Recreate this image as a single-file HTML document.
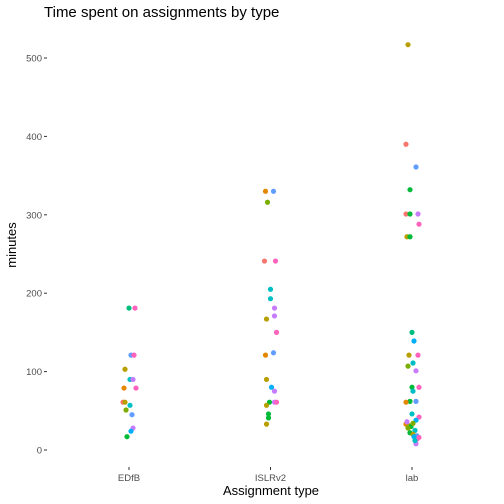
<!DOCTYPE html>
<html><head><meta charset="utf-8"><style>
body{margin:0;background:#fff;}
svg{display:block;font-family:"Liberation Sans",sans-serif;}
</style></head><body>
<svg id="chart" width="504" height="504">
<text x="44" y="17" font-size="15" fill="#000">Time spent on assignments by type</text>
<text transform="translate(16,245) rotate(-90)" text-anchor="middle" font-size="13" fill="#000">minutes</text>
<text x="271" y="495" text-anchor="middle" font-size="13" fill="#000">Assignment type</text>
<g id="axes"></g><g id="pts"></g>
</svg>
<script>
const categories=["EDfB","ISLRv2","lab"];
const yTicks=[0,100,200,300,400,500];
const ptCat=[0,0,0,0,0,0,0,0,0,0,0,0,0,0,0,0,0,
1,1,1,1,1,1,1,1,1,1,1,1,1,1,1,1,1,1,1,1,1,1,1,
2,2,2,2,2,2,2,2,2,2,2,2,2,2,2,2,2,2,2,2,2,2,2,2,2,2,2,2,2,2,2,2,2,2,2,2,2,2,2,2,2];
const ptVal=[181,181,121,121,103,90,90,79,79,61,61,57,51,45,28,24,17,
330,330,316,241,241,205,193,181,171,167,150,124,121,90,80,75,61,57,61,61,46,41,33,
517,390,361,332,301,301,301,288,272,272,150,139,121,121,111,107,101,80,75,80,62,61,62,46,42,33,31,30,28,25,22,20,18,16,14,17,8,12,36,38,34];
const ptJit=[0,6,2,5,-4,1,4,-5,7,-6,-4,1,-3,3,4,2,-2,
-5,3,-3,-6,5,0,0,4,4,-4,6,3,-5,-4,1,4,-1,-4,4,6,-2,-2,-4,
-4,-6,4,-2,-6,-2,6,7,-5,-2,0,2,-3,6,1,-4,4,0,1,7,-2,-6,4,0,7,-6,-3,-1,-4,3,-2,1,5,7,5,2,4,3,-5,4,1];
const ptCol=["#00BF7D","#FF62BC","#619CFF","#FF62BC","#B79F00","#00BFC4","#C77CFF","#E58700","#FF62BC","#F8766D","#B79F00","#00BFC4","#7CAE00","#619CFF","#C77CFF","#00B0F6","#00BA38",
"#E58700","#619CFF","#7CAE00","#F8766D","#FF62BC","#00BFC4","#00BFC4","#C77CFF","#C77CFF","#B79F00","#FF62BC","#619CFF","#E58700","#B79F00","#00B0F6","#C77CFF","#00BA38","#B79F00","#C77CFF","#FF62BC","#00BA38","#00BA38","#B79F00",
"#B79F00","#F8766D","#619CFF","#00BA38","#F8766D","#00BA38","#C77CFF","#FF62BC","#B79F00","#00BA38","#00BF7D","#00B0F6","#B79F00","#FF62BC","#00BFC4","#7CAE00","#C77CFF","#00BA38","#00BFC4","#FF62BC","#00BA38","#E58700","#619CFF","#00BFC4","#FF62BC","#E58700","#B79F00","#00BA38","#7CAE00","#00BFC4","#00BA38","#B79F00","#619CFF","#FF62BC","#FF62BC","#00B0F6","#C77CFF","#00BFC4","#C77CFF","#00B0F6","#7CAE00"];
const NS="http://www.w3.org/2000/svg";
const y0=450,pxPer=0.784;
function yS(v){return y0-v*pxPer;}
function xS(i){return 129+i*141.5;}
const ax=document.getElementById('axes'),pg=document.getElementById('pts');
yTicks.forEach(t=>{
 const l=document.createElementNS(NS,'line');
 l.setAttribute('x1',44);l.setAttribute('x2',47);l.setAttribute('y1',yS(t));l.setAttribute('y2',yS(t));l.setAttribute('stroke','#333');
 
 
 ax.appendChild(l);
 const tx=document.createElementNS(NS,'text');
 tx.setAttribute('x',42);tx.setAttribute('y',yS(t)+3.5);tx.setAttribute('text-anchor','end');tx.setAttribute('font-size','9.5');tx.setAttribute('fill','#4d4d4d');
 tx.textContent=t;
 
 
 ax.appendChild(tx);
});
categories.forEach((c,i)=>{
 const l=document.createElementNS(NS,'line');
 l.setAttribute('x1',xS(i));l.setAttribute('x2',xS(i));l.setAttribute('y1',467);l.setAttribute('y2',470);l.setAttribute('stroke','#333');
 
 
 ax.appendChild(l);
 const tx=document.createElementNS(NS,'text');
 tx.setAttribute('x',xS(i));tx.setAttribute('y',481);tx.setAttribute('text-anchor','middle');tx.setAttribute('font-size','9.5');tx.setAttribute('fill','#4d4d4d');
 tx.textContent=c;
 
 
 ax.appendChild(tx);
});
ptVal.forEach((v,k)=>{
 const c=document.createElementNS(NS,'circle');
 c.setAttribute('cx',xS(ptCat[k])+ptJit[k]);c.setAttribute('cy',yS(v));c.setAttribute('r',2.6);c.setAttribute('fill',ptCol[k]);
 
 
 pg.appendChild(c);
});
</script>
</body></html>
